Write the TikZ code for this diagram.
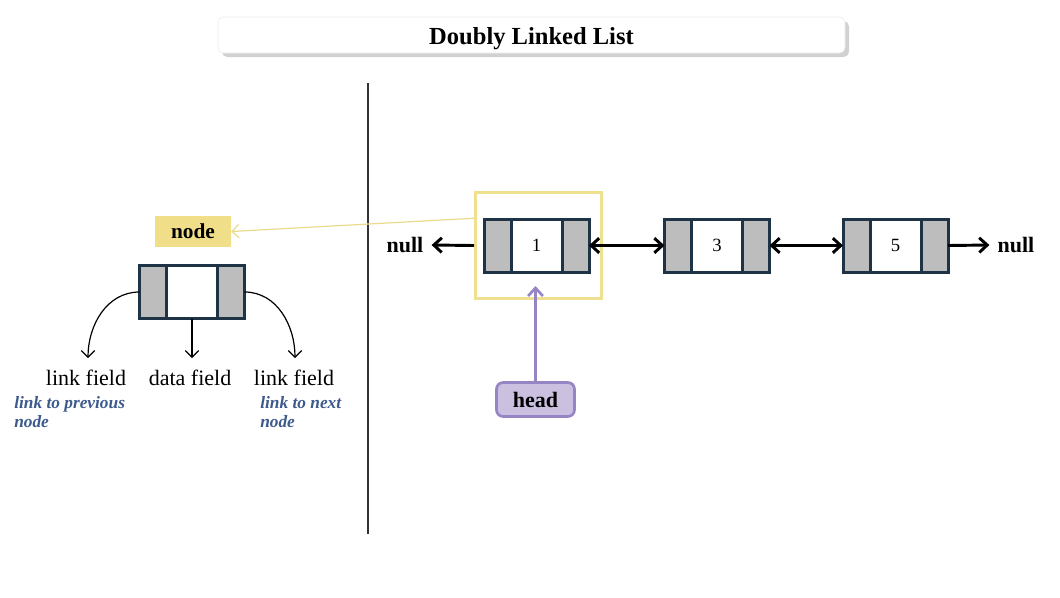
\documentclass[tikz,border=0pt]{standalone}
\usepackage{fontspec}
\setmainfont{Liberation Serif}
\usetikzlibrary{arrows.meta,shadows,calc}
\definecolor{navy}{HTML}{1F3347}
\definecolor{cellgray}{HTML}{BDBDBD}
\definecolor{lblyellow}{HTML}{F0DE88}
\definecolor{hlyellow}{HTML}{EEE08F}
\definecolor{ptryellow}{HTML}{EADA8A}
\definecolor{headfill}{HTML}{CBC0E0}
\definecolor{headdraw}{HTML}{9585C5}
\definecolor{noteblue}{HTML}{3C5A8C}
\def\px{0.75pt}
\tikzset{
  cellbase/.style={draw=navy, line width=2.25pt, minimum height=53*\px, inner sep=0pt, outer sep=0pt, font=\fontsize{14}{16}\selectfont},
  graycell/.style={cellbase, fill=cellgray, minimum width=27*\px},
  datacell/.style={cellbase, fill=white, minimum width=51*\px},
  blackarrow/.style={line width=2.2pt, -{Straight Barb[length=6pt,width=11pt]}},
  dblarrow/.style={line width=2.2pt, {Straight Barb[length=6pt,width=11pt]}-{Straight Barb[length=6pt,width=11pt]}},
  thinarrow/.style={line width=0.9pt, -{Straight Barb[length=5pt,width=10pt]}},
  boldlbl/.style={font=\fontsize{16.5}{18}\selectfont\bfseries, inner sep=6pt},
  fieldlbl/.style={font=\fontsize{16.5}{18}\selectfont, inner sep=0pt, anchor=base},
  note/.style={font=\fontsize{13}{14.25}\selectfont\bfseries\itshape, text=noteblue, align=left, anchor=north west, inner sep=0pt},
}
\begin{document}
\begin{tikzpicture}[x=0.75pt,y=-0.75pt]
\useasboundingbox (0,0) rectangle (1060,597);

% title
\node[draw=black!8, fill=white, rounded corners=4pt, minimum width=627*\px, minimum height=36*\px,
      text height=13.5pt, text depth=0pt,
      drop shadow={shadow xshift=3pt, shadow yshift=-3pt, opacity=0.3, fill=black!60},
      font=\fontsize{18.4}{20}\selectfont\bfseries] (title) at (531.5,35) {Doubly Linked List};

% divider
\draw[black!80, line width=0.8pt] (368,83) coordinate (d1) -- (368,534) coordinate (d2);

% ---- left explanatory node ----
\node[datacell] (n0) at (192,292) {};
\node[graycell, anchor=east] (n0l) at (n0.west) {};
\node[graycell, anchor=west] (n0r) at (n0.east) {};

\node[fill=lblyellow, minimum width=76*\px, minimum height=31*\px, inner sep=0pt,
      font=\fontsize{16}{18}\selectfont\bfseries] (nodelbl) at (193,231.5) {node};

\node[fieldlbl] (lf1) at (86,385) {link field};
\node[fieldlbl] (df) at (190,385) {data field};
\node[fieldlbl] (lf2) at (294,385) {link field};
\coordinate (a1) at (88,358);
\coordinate (a2) at (192,358);
\coordinate (a3) at (295,358);
\draw[thinarrow] (n0l.west) to[out=180,in=90] (a1);
\draw[thinarrow] (n0.south) -- (a2);
\draw[thinarrow] (n0r.east) to[out=0,in=90] (a3);

\node[note] (nt1) at (14,396) {link to previous\\node};
\node[note] (nt2) at (260,396) {link to next\\node};

% ---- list ----
\node[datacell] (n1) at (536.5,245.5) {1};
\node[graycell, anchor=east] (n1l) at (n1.west) {};
\node[graycell, anchor=west] (n1r) at (n1.east) {};

\node[datacell] (n3) at (717,245.5) {3};
\node[graycell, anchor=east] (n3l) at (n3.west) {};
\node[graycell, anchor=west] (n3r) at (n3.east) {};

\node[datacell] (n5) at (895.5,245.5) {5};
\node[graycell, anchor=east] (n5l) at (n5.west) {};
\node[graycell, anchor=west] (n5r) at (n5.east) {};

\node[draw=hlyellow, line width=2.25pt, minimum width=126*\px, minimum height=106*\px, inner sep=0pt] (hl) at (538.5,245.5) {};

\node[boldlbl] (nullL) at (405,245) {null};
\node[boldlbl] (nullR) at (1016,245) {null};

\draw[blackarrow] (hl.west) -- (nullL.east);
\draw[dblarrow] (n1r.east) -- (n3l.west);
\draw[dblarrow] (n3r.east) -- (n5l.west);
\draw[blackarrow] (n5r.east) -- (nullR.west);

% node label pointer
\draw[ptryellow, line width=0.9pt, -{Straight Barb[length=5pt,width=10pt]}]
  ($(hl.north west)!0.25!(hl.south west)$) -- (nodelbl.east);

% head
\node[draw=headdraw, fill=headfill, line width=2pt, rounded corners=5pt,
      minimum width=78*\px, minimum height=34*\px, inner sep=0pt,
      font=\fontsize{16.5}{18}\selectfont\bfseries] (head) at (535.5,399.5) {head};
\coordinate (hp) at (535.5,286);
\draw[headdraw, line width=2pt, -{Straight Barb[length=6pt,width=11pt]}] (head.north) -- (hp);
\end{tikzpicture}
\end{document}
